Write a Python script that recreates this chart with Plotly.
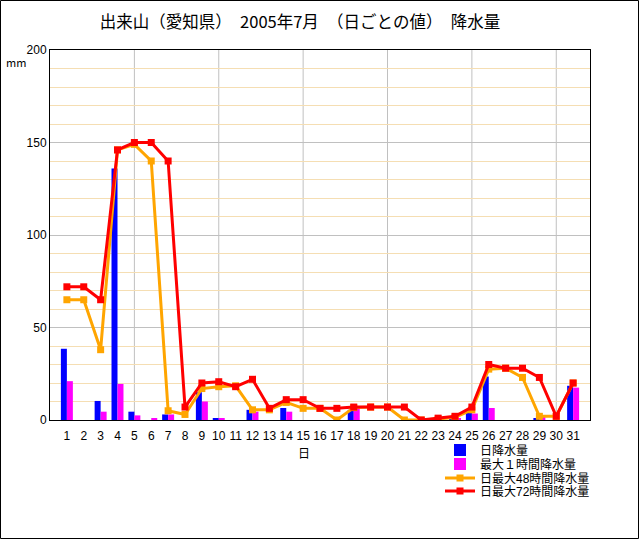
import plotly.graph_objects as go

days = list(range(1, 32))
day_labels = [str(d) for d in days]

# 日降水量 (mm)
daily = [38.5, None, 10.3, 136, 4.5, None, 3, None, 15, 1,
         None, 5.5, None, 6.5, None, None, None, 5.5, None, None,
         None, None, None, 0.5, 5, 23.5, None, None, 1, None, 18.5]
# 最大１時間降水量 (mm)
max1h = [21, None, 4.5, 19.5, 2.5, 1, 3, None, 10, 1,
         None, 4.5, None, 4.5, None, None, None, 6.5, None, None,
         None, None, None, 1, 3.5, 6.5, None, None, 2, None, 17.5]
# 日最大48時間降水量 (mm)
max48h = [65, 65, 38, 146, 149, 140, 5, 3, 17, 18,
          18.5, 5.5, 5.5, 9.5, 6.3, 6.3, 0, 6.7, 7, 7,
          0, 0, 0.5, 1.5, 5.5, 27.5, 28, 23, 2, 2, 20]
# 日最大72時間降水量 (mm)
max72h = [72, 72, 65, 146, 150, 150, 140, 7, 20, 20.7,
          18, 22, 6.3, 11, 11, 6.3, 6.3, 7, 7, 7,
          7, 0, 1, 2, 7, 30, 28, 28, 23, 2, 20]

grid_x = [5, 10, 15, 20, 25, 30]
y_ticks = [0, 50, 100, 150, 200]

FONT = "Noto Sans CJK JP, Noto Sans, sans-serif"
LEGFONT = "Liberation Sans, Noto Sans CJK JP, sans-serif"

L, T, PW, PH = 50, 50, 540, 370
def px_x(p):
    return (p - L) / PW
def px_y(p):
    return (L + PH - p) / PH

fig = go.Figure()
fig.add_trace(go.Bar(x=days, y=daily, name="日降水量", legend="legend",
                     marker=dict(color="#0000FF", line=dict(width=0))))
fig.add_trace(go.Bar(x=days, y=max1h, name="最大１時間降水量", legend="legend2",
                     marker=dict(color="#FF00FF", line=dict(width=0))))
fig.add_trace(go.Scatter(x=days, y=max48h, name="日最大48時間降水量", legend="legend3",
                         mode="lines+markers",
                         line=dict(color="#FFA500", width=3),
                         marker=dict(symbol="square", size=7, color="#FFA500")))
fig.add_trace(go.Scatter(x=days, y=max72h, name="日最大72時間降水量", legend="legend4",
                         mode="lines+markers",
                         line=dict(color="#FF0000", width=3),
                         marker=dict(symbol="square", size=7, color="#FF0000")))

shapes = []
for gx in grid_x:
    shapes.append(dict(type="line", xref="x", yref="paper", x0=gx, x1=gx, y0=0, y1=1,
                       line=dict(color="#C0C0C0", width=1), layer="between"))
shapes.append(dict(type="rect", xref="paper", yref="paper",
                   x0=px_x(0.5), x1=px_x(638.5), y0=px_y(0.5), y1=px_y(538.5),
                   line=dict(color="black", width=1), fillcolor="rgba(0,0,0,0)", layer="above"))

def leg(ypx):
    return dict(x=px_x(440), y=px_y(ypx), xanchor="left", yanchor="middle",
                font=dict(size=12, family=LEGFONT), bgcolor="rgba(0,0,0,0)",
                itemwidth=30, borderwidth=0)

fig.update_layout(
    width=640, height=540,
    margin=dict(l=50, r=50, t=50, b=120),
    paper_bgcolor="white", plot_bgcolor="white",
    font=dict(family=FONT, size=12, color="black"),
    title=dict(text="出来山（愛知県）　2005年7月　（日ごとの値）　降水量",
               x=300 / 640, xanchor="center", y=1 - 22 / 540, yanchor="middle",
               font=dict(size=16.5, family=FONT)),
    barmode="group", bargap=0.29, bargroupgap=0,
    showlegend=True,
    legend=leg(450), legend2=leg(464), legend3=leg(478), legend4=leg(491),
    shapes=shapes,
    annotations=[
        dict(text="mm", xref="paper", yref="paper", x=px_x(16), y=px_y(62),
             showarrow=False, font=dict(size=11, family=FONT), xanchor="center", yanchor="middle"),
        dict(text="日", xref="paper", yref="paper", x=px_x(304), y=px_y(452),
             showarrow=False, font=dict(size=12, family=FONT), xanchor="center", yanchor="middle"),
    ],
)
fig.update_xaxes(range=[0, 32], tickmode="array", tickvals=days, ticktext=day_labels,
                 showgrid=False, zeroline=False, showline=True, mirror=True,
                 linecolor="black", linewidth=1, ticks="", ticklabelstandoff=5,
                 tickfont=dict(size=12, family=LEGFONT))
fig.update_yaxes(range=[0, 200], tickmode="array", tickvals=y_ticks,
                 showgrid=True, gridcolor="#C0C0C0", gridwidth=1,
                 minor=dict(dtick=10, tick0=0, showgrid=True, gridcolor="#F5DEB3", gridwidth=1),
                 zeroline=False, showline=True, mirror=True,
                 linecolor="black", linewidth=1, ticks="", tickfont=dict(size=12, family=LEGFONT))

fig.write_html("out.html")
